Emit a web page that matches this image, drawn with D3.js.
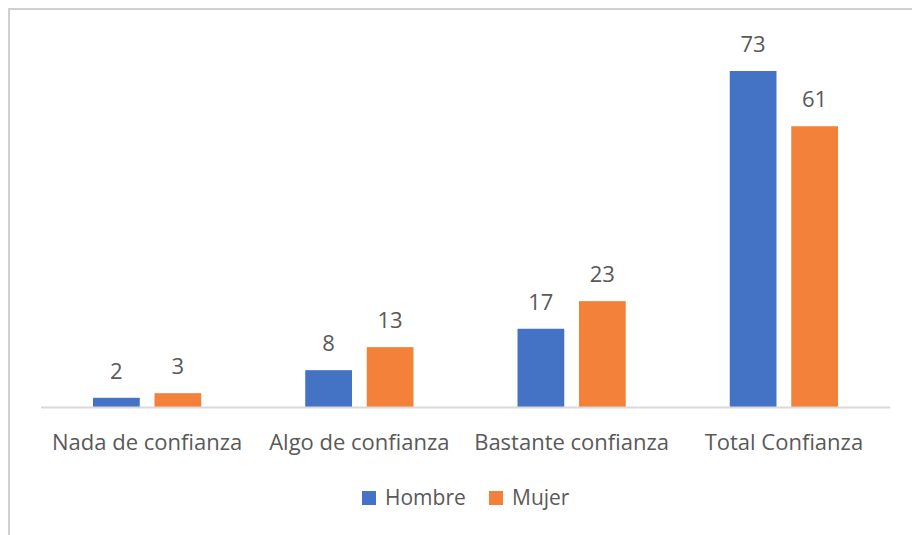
<!DOCTYPE html>
<html>
<head>
<meta charset="utf-8">
<script src="https://cdn.jsdelivr.net/npm/d3@7"></script>
<style>
  body { margin: 0; background: #fff; }
  text { font-family: "Open Sans", "Noto Sans", sans-serif; fill: #595959; }
</style>
</head>
<body>
<svg id="chart"></svg>
<script>
// categories and series
const categories = ['Nada de confianza', 'Algo de confianza', 'Bastante confianza', 'Total Confianza'];
const seriesNames = ['Hombre', 'Mujer'];
const hombre = [2, 8, 17, 73];
const mujer = [3, 13, 23, 61];
const colors = ['#4472C4', '#F4813A'];

const width = 912, height = 535;
const svg = d3.select('#chart').attr('width', width).attr('height', height);

// chart frame (right/bottom edges fall outside the picture)
svg.append('rect')
    .attr('x', 9).attr('y', 9)
    .attr('width', width + 20).attr('height', height + 20)
    .attr('fill', 'none').attr('stroke', '#d0d0d0').attr('stroke-width', 2);

const plot = { left: 41, right: 890, top: 71, bottom: 407 };

const x0 = d3.scaleBand()
    .domain(categories)
    .range([plot.left, plot.right])
    .paddingInner(0.49).paddingOuter(0.245);
const x1 = d3.scaleBand()
    .domain(seriesNames)
    .range([0, x0.bandwidth()])
    .paddingInner(0.24);
const y = d3.scaleLinear()
    .domain([0, 73])
    .range([plot.bottom, plot.top]);

const rows = categories.map((c, i) => ({ cat: c, vals: [hombre[i], mujer[i]] }));

const groups = svg.selectAll('g.cat')
    .data(rows)
    .enter().append('g')
    .attr('class', 'cat')
    .attr('transform', d => `translate(${x0(d.cat)},0)`);

groups.selectAll('rect')
    .data(d => d.vals.map((v, j) => ({ name: seriesNames[j], v: v, j: j })))
    .enter().append('rect')
    .attr('x', d => x1(d.name))
    .attr('y', d => y(d.v))
    .attr('width', x1.bandwidth())
    .attr('height', d => y(0) - y(d.v))
    .attr('fill', d => colors[d.j]);

groups.selectAll('text.val')
    .data(d => d.vals.map((v, j) => ({ name: seriesNames[j], v: v })))
    .enter().append('text')
    .attr('class', 'val')
    .attr('x', d => x1(d.name) + x1.bandwidth() / 2)
    .attr('y', d => y(d.v) - 19)
    .attr('text-anchor', 'middle')
    .style('font-size', '22px')
    .text(d => d.v);

// baseline
svg.append('line')
    .attr('x1', plot.left).attr('x2', plot.right)
    .attr('y1', plot.bottom + 0.5).attr('y2', plot.bottom + 0.5)
    .attr('stroke', '#d9d9d9').attr('stroke-width', 2);

// category labels
const xAxis = d3.axisBottom(x0).tickSize(0).tickPadding(0);
const ax = svg.append('g')
    .attr('transform', `translate(0,${plot.bottom})`)
    .call(xAxis);
ax.select('.domain').remove();
ax.selectAll('text')
    .attr('y', 43)
    .attr('dy', 0)
    .style('font-size', '22px')
    .style('font-family', '"Open Sans", "Noto Sans", sans-serif')
    .attr('fill', '#595959');

// legend
const legendItems = [
    { name: 'Hombre', color: colors[0], x: 362 },
    { name: 'Mujer', color: colors[1], x: 489 }
];
const lg = svg.selectAll('g.legend')
    .data(legendItems)
    .enter().append('g')
    .attr('class', 'legend')
    .attr('transform', d => `translate(${d.x},491)`);
lg.append('rect')
    .attr('width', 14).attr('height', 14)
    .attr('fill', d => d.color);
lg.append('text')
    .attr('x', 23).attr('y', 14)
    .style('font-size', '21px')
    .text(d => d.name);
</script>
</body>
</html>
